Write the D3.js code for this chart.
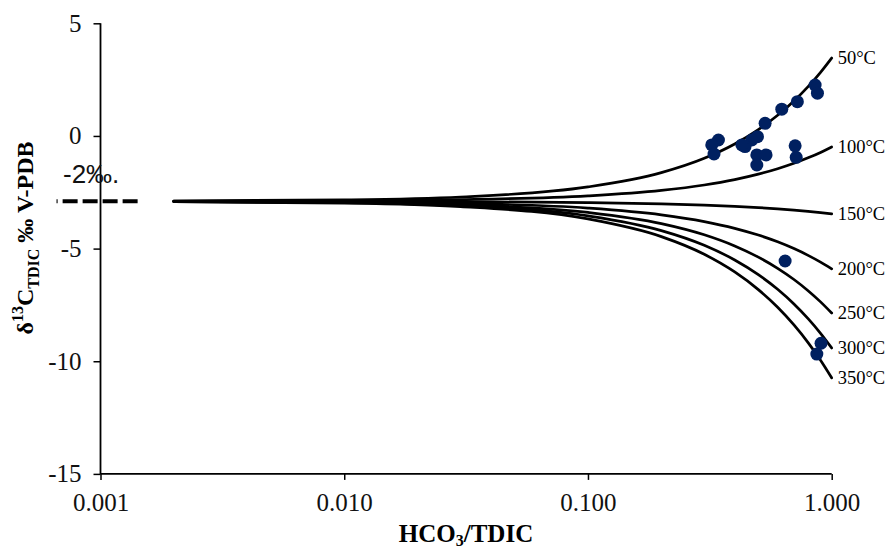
<!DOCTYPE html>
<html><head><meta charset="utf-8">
<script src="https://cdn.jsdelivr.net/npm/d3@7"></script>
<style>
html,body{margin:0;padding:0;background:#fff;}
svg{display:block;}
</style>
</head><body>
<svg id="chart" width="885" height="549"></svg>
<script>
// ---- data ----
const fractions = [0.002, 0.01, 0.03, 0.1, 0.2, 0.3, 0.4, 0.5, 0.6, 0.7, 0.8, 0.9, 1.0];
const temperatures = ["50°C", "100°C", "150°C", "200°C", "250°C", "300°C", "350°C"];
const curve50  = [-2.887, -2.836, -2.709, -2.264, -1.628, -0.992, -0.356, 0.28, 0.916, 1.552, 2.188, 2.824, 3.46];
const curve100 = [-2.895, -2.876, -2.828, -2.659, -2.418, -2.177, -1.936, -1.695, -1.454, -1.213, -0.972, -0.731, -0.49];
const curve150 = [-2.901, -2.906, -2.917, -2.956, -3.012, -3.068, -3.124, -3.18, -3.236, -3.292, -3.348, -3.404, -3.46];
const curve200 = [-2.906, -2.93, -2.99, -3.2, -3.5, -3.8, -4.1, -4.4, -4.7, -5.0, -5.3, -5.6, -5.9];
const curve250 = [-2.910, -2.950, -3.049, -3.396, -3.892, -4.388, -4.884, -5.38, -5.876, -6.372, -6.868, -7.364, -7.86];
const curve300 = [-2.913, -2.965, -3.095, -3.551, -4.202, -4.853, -5.504, -6.155, -6.806, -7.457, -8.108, -8.759, -9.41];
const curve350 = [-2.916, -2.978, -3.135, -3.684, -4.468, -5.252, -6.036, -6.82, -7.604, -8.388, -9.172, -9.956, -10.74];
const curves = [curve50, curve100, curve150, curve200, curve250, curve300, curve350];

const sampleX = [0.855, 0.874, 0.723, 0.624, 0.533, 0.496, 0.470, 0.441, 0.428, 0.343, 0.322, 0.329, 0.493, 0.538, 0.493, 0.708, 0.715, 0.644, 0.904, 0.869];
const sampleY = [2.26, 1.90, 1.52, 1.19, 0.56, -0.03, -0.18, -0.47, -0.40, -0.18, -0.40, -0.80, -0.84, -0.84, -1.29, -0.44, -0.95, -5.55, -9.20, -9.68];

const xTicks = [0.001, 0.01, 0.1, 1];
const xTickLabels = ["0.001", "0.010", "0.100", "1.000"];
const yTicks = [5, 0, -5, -10, -15];
const yTickLabels = ["5", "0", "-5", "-10", "-15"];
const refX = [0.00142, 0.00066];
const refY = -2.9;
const refLabel = "-2‰.";

// ---- layout ----
const svg = d3.select("#chart");
const x = d3.scaleLog().domain([0.001, 1]).range([100.5, 831.7]);
const y = d3.scaleLinear().domain([-15, 5]).range([473.9, 23.3]);
const serif = "'Liberation Serif','Times New Roman',serif";

// axes
const xAxis = d3.axisBottom(x).tickValues(xTicks).tickFormat((d, i) => xTickLabels[i]).tickSize(6).tickPadding(13);
const gx = svg.append("g").attr("transform", `translate(0,${y(-15)})`).call(xAxis);
const yAxis = d3.axisLeft(y).tickValues(yTicks).tickFormat((d, i) => yTickLabels[i]).tickSize(7).tickPadding(12);
const gy = svg.append("g").attr("transform", `translate(${x(0.001)},0)`).call(yAxis);
[gx, gy].forEach(g => {
  g.attr("font-family", serif).attr("font-size", 25);
  g.select(".domain").attr("stroke", "#000").attr("stroke-width", 1.8);
  g.selectAll(".tick line").attr("stroke", "#000").attr("stroke-width", 1.5);
  g.selectAll(".tick text").attr("fill", "#111");
});
gy.select(".domain").attr("d", `M-0,${y(5)}H0V${y(-15)}H-0`);
gx.select(".domain").attr("d", `M${x(0.001)},0V0H${x(1)}V0`);

// reference dashed line
svg.append("line")
  .attr("x1", x(refX[0])).attr("x2", x(refX[1]))
  .attr("y1", y(refY)).attr("y2", y(refY))
  .attr("stroke", "#000").attr("stroke-width", 4).attr("stroke-dasharray", "15,5");
svg.append("text").attr("x", 63).attr("y", 183)
  .style("font-family", "'Liberation Sans',Arial,sans-serif").style("font-size", "26px").attr("fill", "#111")
  .text(refLabel);

// curves
const line = d3.line().x((d, i) => x(fractions[i])).y(d => y(d)).curve(d3.curveMonotoneX);
svg.append("g").selectAll("path").data(curves).join("path")
  .attr("d", d => line(d)).attr("fill", "none").attr("stroke", "#000")
  .attr("stroke-width", 2.7).attr("stroke-linecap", "round");

// curve labels
svg.append("g").selectAll("text").data(curves).join("text")
  .attr("x", x(1) + 6).attr("y", d => y(d[d.length - 1]) + 6)
  .style("font-family", serif).style("font-size", "18.5px").attr("fill", "#000")
  .text((d, i) => temperatures[i]);

// sample points
svg.append("g").selectAll("circle").data(sampleX).join("circle")
  .attr("cx", d => x(d)).attr("cy", (d, i) => y(sampleY[i])).attr("r", 6.5)
  .attr("fill", "#002060");

// axis titles
const xt = svg.append("text").attr("x", 466).attr("y", 542).attr("text-anchor", "middle")
  .style("font-family", serif).style("font-size", "25px").style("font-weight", "bold");
xt.append("tspan").text("HCO");
xt.append("tspan").attr("font-size", "16px").attr("dy", 4).text("3");
xt.append("tspan").attr("dy", -4).text("/TDIC");

const yt = svg.append("text").attr("transform", "translate(33,238) rotate(-90)").attr("text-anchor", "middle")
  .style("font-family", serif).style("font-size", "24px").style("font-weight", "bold");
yt.append("tspan").text("δ");
yt.append("tspan").attr("font-size", "16px").attr("dy", -10).text("13");
yt.append("tspan").attr("dy", 10).text("C");
yt.append("tspan").attr("font-size", "16px").attr("dy", 6).text("TDIC");
yt.append("tspan").attr("dy", -6).text(" ‰ V-PDB");
</script>
</body></html>
